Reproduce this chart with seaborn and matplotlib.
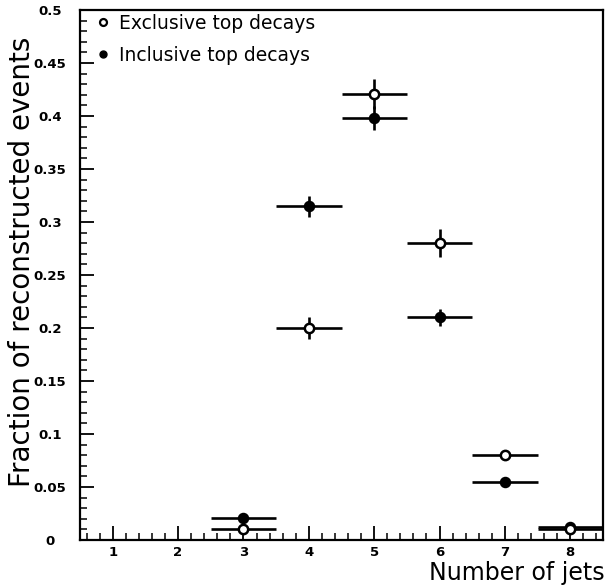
import numpy as np
import pandas as pd
import matplotlib
matplotlib.use("Agg")
import matplotlib.pyplot as plt
import seaborn as sns
from matplotlib.ticker import MultipleLocator
from matplotlib.lines import Line2D

njets = [3, 4, 5, 6, 7, 8]
excl = [0.010, 0.200, 0.421, 0.280, 0.080, 0.010]
excl_err = [0.004, 0.010, 0.014, 0.013, 0.004, 0.003]
incl = [0.021, 0.315, 0.398, 0.210, 0.055, 0.012]
incl_err = [0.004, 0.010, 0.011, 0.008, 0.003, 0.003]
bin_half = 0.5
ytick_vals = [0, 0.05, 0.1, 0.15, 0.2, 0.25, 0.3, 0.35, 0.4, 0.45, 0.5]
ytick_labels = ["0", "0.05", "0.1", "0.15", "0.2", "0.25", "0.3", "0.35", "0.4", "0.45", "0.5"]

sns.set_style("ticks")
plt.rcParams['font.family'] = ['DejaVu Sans']
plt.rcParams['text.color'] = 'black'
plt.rcParams['xtick.color'] = 'black'
plt.rcParams['ytick.color'] = 'black'
plt.rcParams['axes.labelcolor'] = 'black'

df = pd.DataFrame({
    "njets": njets * 2,
    "frac": excl + incl,
    "err": excl_err + incl_err,
    "sample": ["Exclusive top decays"] * len(njets) + ["Inclusive top decays"] * len(njets),
})

fig = plt.figure(figsize=(6.06, 5.88), dpi=100)
ax = fig.add_axes([80/606, 48/588, 523/606, 530/588])

for name, g in df.groupby("sample"):
    ax.errorbar(g["njets"], g["frac"], xerr=bin_half, yerr=g["err"], fmt="none",
                ecolor="black", elinewidth=1.9, capsize=0, zorder=2)

sns.scatterplot(data=df[df["sample"] == "Inclusive top decays"], x="njets", y="frac",
                color="black", s=50, marker="o", edgecolor="black", linewidth=1.2,
                ax=ax, zorder=3, legend=False)
sns.scatterplot(data=df[df["sample"] == "Exclusive top decays"], x="njets", y="frac",
                color="white", s=45, marker="o", edgecolor="black", linewidth=1.8,
                ax=ax, zorder=4, legend=False)

ax.set_xlim(0.5, 8.5)
ax.set_ylim(0, 0.5)
ax.xaxis.set_major_locator(MultipleLocator(1))
ax.xaxis.set_minor_locator(MultipleLocator(0.2))
ax.yaxis.set_minor_locator(MultipleLocator(0.01))
ax.set_yticks(ytick_vals)
ax.set_yticklabels(ytick_labels)
ax.tick_params(axis="y", which="major", direction="in", length=10, width=1.3,
               labelsize=9.5, pad=21.5)
ax.tick_params(axis="x", which="major", direction="in", length=10, width=1.3,
               labelsize=9.5, pad=4)
ax.tick_params(axis="both", which="minor", direction="in", length=5, width=1.1)
for lab in ax.get_xticklabels() + ax.get_yticklabels():
    lab.set_fontweight("bold")
for lab in ax.get_yticklabels():
    lab.set_horizontalalignment("center")
for sp in ax.spines.values():
    sp.set_visible(True)
    sp.set_linewidth(1.6)
    sp.set_color("black")

ax.set_xlabel("")
ax.set_ylabel("")
fig.text(0.997, 0.026, "Number of jets", ha="right", va="center", fontsize=17)
fig.text(0.036, 0.555, "Fraction of reconstructed events", ha="center", va="center",
         rotation=90, fontsize=20)

handles = [
    Line2D([], [], linestyle="none", marker="o", markersize=5, markerfacecolor="white",
           markeredgecolor="black", markeredgewidth=1.6, label="Exclusive top decays"),
    Line2D([], [], linestyle="none", marker="o", markersize=5, markerfacecolor="black",
           markeredgecolor="black", label="Inclusive top decays"),
]
ax.legend(handles=handles, loc="upper left", frameon=False, fontsize=13.5,
          handletextpad=0.35, borderaxespad=0.0, labelspacing=0.7, handlelength=1.0,
          bbox_to_anchor=(0.012, 1.007))

fig.savefig("out.png", dpi=100)
